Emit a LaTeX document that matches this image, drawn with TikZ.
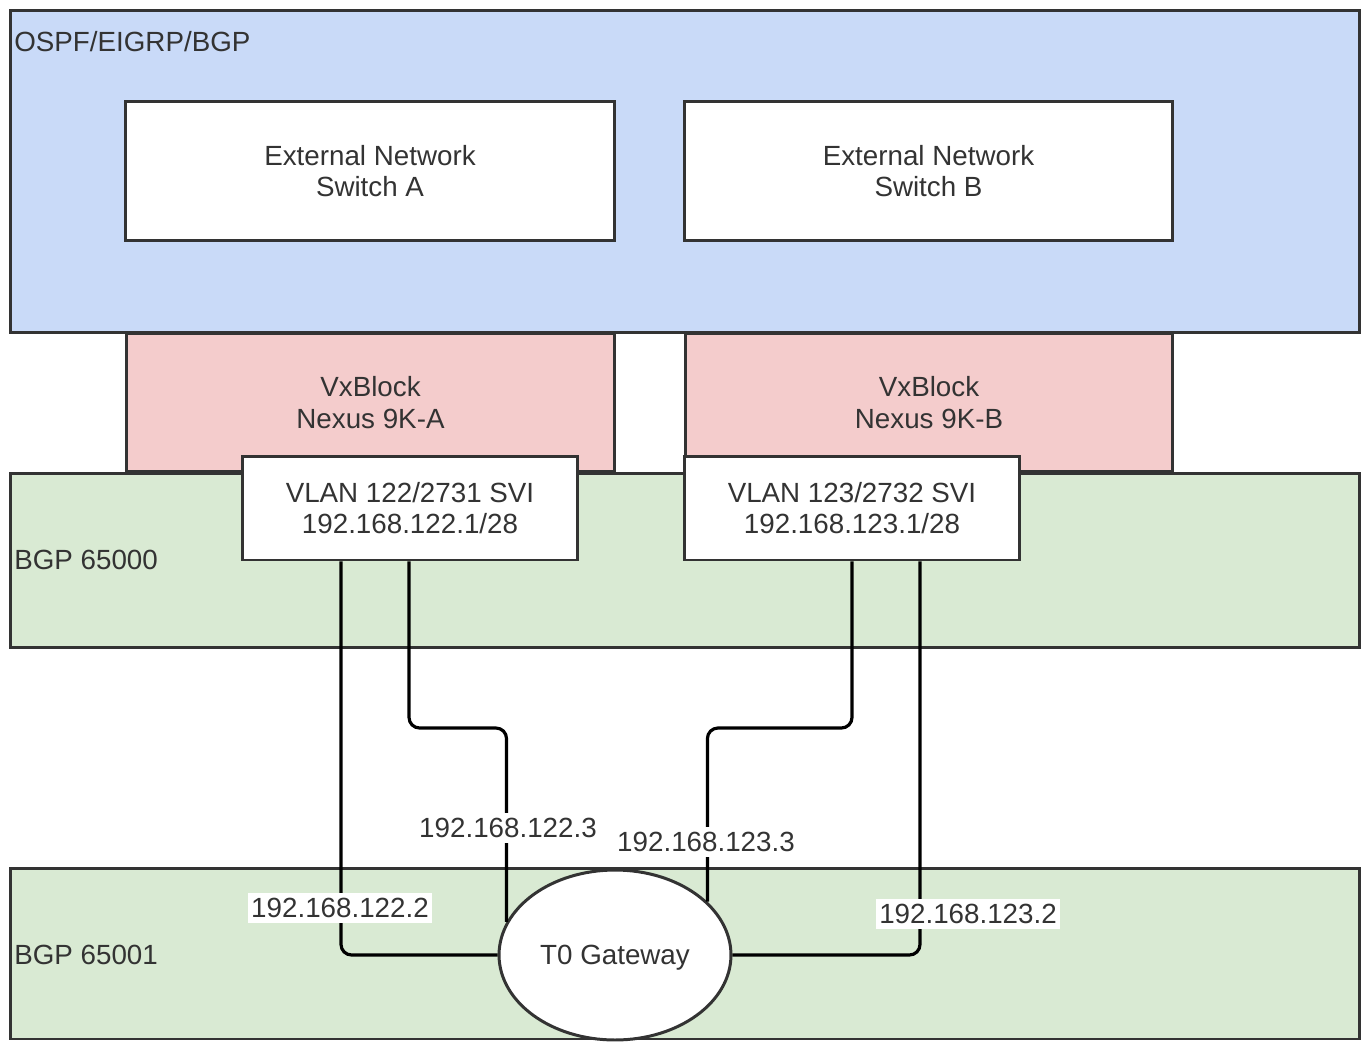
\documentclass[tikz,border=0pt]{standalone}
\usepackage{fontspec}
\setmainfont{Liberation Sans}
\usepackage{tikz}
\usetikzlibrary{shapes.geometric}
\definecolor{ospfblue}{RGB}{201,218,248}
\definecolor{nexpink}{RGB}{244,204,204}
\definecolor{bgpgreen}{RGB}{217,234,211}
\definecolor{edge}{RGB}{51,51,51}
\tikzstyle{zone} = [rectangle, draw=edge, line width=1.7pt, inner sep=0pt, text centered, align=center]
\tikzstyle{box} = [rectangle, draw=edge, line width=1.7pt, fill=white, text centered, align=center]
\tikzstyle{gateway} = [ellipse, draw=edge, line width=1.7pt, fill=white, minimum width=4.64cm, minimum height=3.4cm, text height=11.3pt, text depth=0pt]
\tikzstyle{wire} = [line width=1.8pt, black, rounded corners=6pt]
\tikzstyle{addr} = [fill=white, inner xsep=2pt, inner ysep=3pt]

\begin{document}
\begin{tikzpicture}[x=0.02cm, y=-0.02cm, font=\fontsize{15.8}{18.1}\selectfont, text=black!80]
\useasboundingbox (0,0) rectangle (1365,1041);

\node (ospf) [zone, fill=ospfblue, minimum width=27cm, minimum height=6.46cm] at (685,171.5) {};
\node (ospflbl) [anchor=west, inner sep=0pt] at (14,42) {OSPF/EIGRP/BGP};
\node (swA) [box, minimum width=9.8cm, minimum height=2.8cm] at (370,171) {External Network\\Switch A};
\node (swB) [box, minimum width=9.78cm, minimum height=2.8cm] at (928.5,171) {External Network\\Switch B};

\node (nexA) [zone, fill=nexpink, minimum width=9.78cm, minimum height=2.78cm] at (370.5,402.5) {VxBlock\\Nexus 9K-A};
\node (nexB) [zone, fill=nexpink, minimum width=9.76cm, minimum height=2.78cm] at (929,402.5) {VxBlock\\Nexus 9K-B};

\node (bgp0) [zone, fill=bgpgreen, minimum width=27cm, minimum height=3.5cm] at (685,560.5) {};
\node (bgp0lbl) [anchor=west, inner sep=0pt] at (14,560) {BGP 65000};
\node (vlanA) [box, minimum width=6.72cm, minimum height=2.08cm] at (410,508) {VLAN 122/2731 SVI\\192.168.122.1/28};
\node (vlanB) [box, minimum width=6.72cm, minimum height=2.08cm] at (852,508) {VLAN 123/2732 SVI\\192.168.123.1/28};

\node (bgp1) [zone, fill=bgpgreen, minimum width=27cm, minimum height=3.42cm] at (685,953.5) {};
\node (bgp1lbl) [anchor=west, inner sep=0pt] at (14,955) {BGP 65001};
\node (t0) [gateway] at (615,955) {T0 Gateway};

% uplinks from the SVIs to the gateway
\draw [wire] (vlanA.south -| 341,0) |- (t0.west);
\draw [wire] (vlanA.south -| 409,0) |- (t0.163 |- 0,728) -- (t0.163);
\draw [wire] (vlanB.south -| 852,0) |- (t0.30 |- 0,728) -- (t0.30);
\draw [wire] (vlanB.south -| 920,0) |- (t0.east);

\node (ipA3) [addr] at (508,828) {192.168.122.3};
\node (ipB3) [addr] at (706,842) {192.168.123.3};
\node (ipA2) [addr] at (340,908) {192.168.122.2};
\node (ipB2) [addr] at (968,914) {192.168.123.2};
\end{tikzpicture}
\end{document}
